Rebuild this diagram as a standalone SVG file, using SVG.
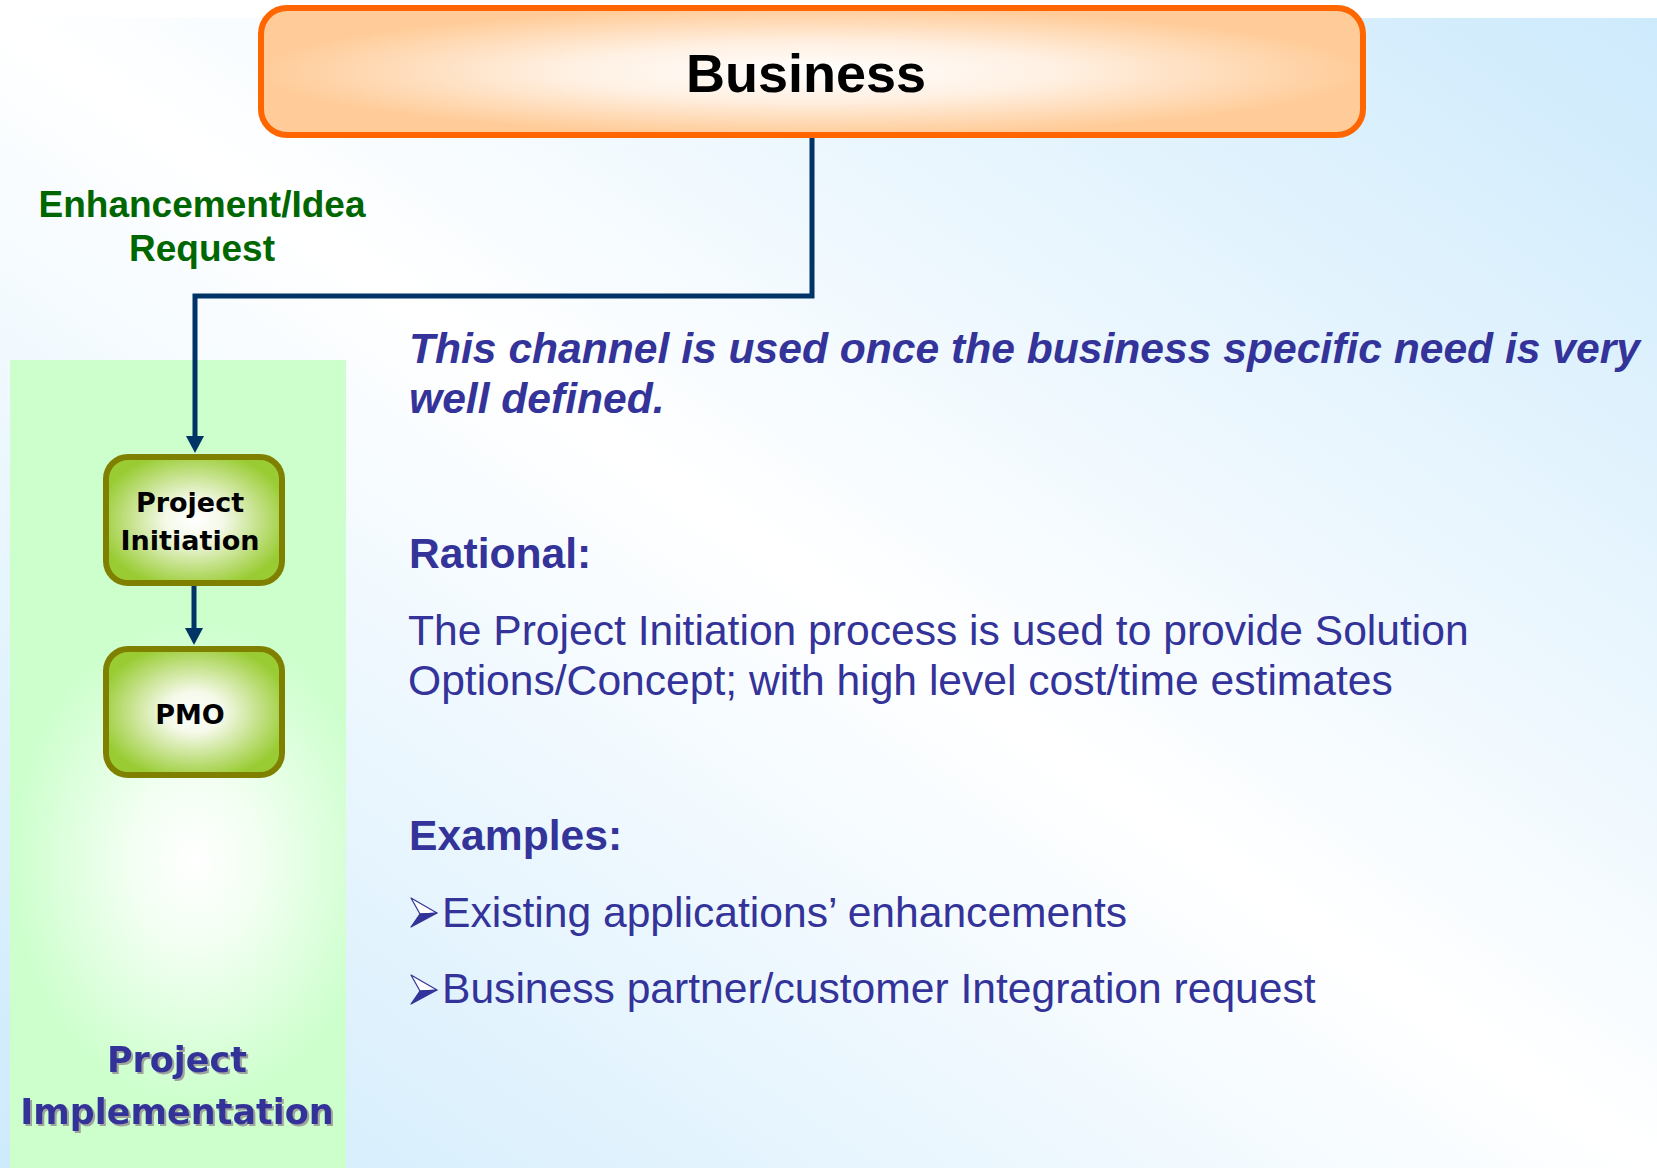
<svg xmlns="http://www.w3.org/2000/svg" width="1657" height="1168" viewBox="0 0 1657 1168">
<defs>
  <linearGradient id="bg" x1="1" y1="0" x2="0" y2="1">
    <stop offset="0" stop-color="#cdeafc"/>
    <stop offset="0.5" stop-color="#ffffff"/>
    <stop offset="1" stop-color="#cdeafc"/>
  </linearGradient>
  <radialGradient id="panelG" cx="0.55" cy="0.62" r="0.55" gradientTransform="translate(0.55 0.62) scale(1 0.55) translate(-0.55 -0.62)">
    <stop offset="0" stop-color="#ffffff"/>
    <stop offset="0.35" stop-color="#f2fff2"/>
    <stop offset="1" stop-color="#ccffcc"/>
  </radialGradient>
  <radialGradient id="bizG" cx="0.5" cy="0.5" r="0.5">
    <stop offset="0" stop-color="#ffffff"/>
    <stop offset="0.45" stop-color="#fff0e2"/>
    <stop offset="1" stop-color="#ffcc99"/>
  </radialGradient>
  <radialGradient id="nodeG" cx="0.5" cy="0.5" r="0.55">
    <stop offset="0" stop-color="#ffffff"/>
    <stop offset="0.3" stop-color="#f4f9e8"/>
    <stop offset="1" stop-color="#99cc33"/>
  </radialGradient>
  <filter id="shadow" x="-5%" y="-5%" width="110%" height="120%">
    <feDropShadow dx="2" dy="2" stdDeviation="0.5" flood-color="#999999" flood-opacity="0.9"/>
  </filter>
  <g id="bullet">
    <path d="M0,0 L26,15 L9,16 Z" fill="#ffffff" stroke="#333399" stroke-width="1.2" stroke-linejoin="round"/>
    <path d="M9,16 L26,15 L0,29 Z" fill="#333399" stroke="#333399" stroke-width="1.2" stroke-linejoin="round"/>
  </g>
  <style>
    .node-text { font-family: "DejaVu Sans", Verdana, sans-serif; font-weight: bold; font-size: 27px; fill: #000000; text-anchor: middle; }
    .blue { fill: #333399; font-family: "Liberation Sans", Arial, sans-serif; font-size: 42.6px; }
    .green-node { fill: url(#nodeG); stroke: #808000; stroke-width: 6; }
    .conn { fill: none; stroke: #003366; stroke-width: 5; }
    .head { fill: #003366; }
  </style>
</defs>

<rect x="0" y="0" width="1657" height="1168" fill="#ffffff"/>
<rect x="0" y="18" width="1657" height="1150" fill="url(#bg)"/>

<g id="panel">
  <rect x="10" y="360" width="336" height="808" fill="url(#panelG)"/>
  <text x="177" y="1072" text-anchor="middle" font-family="DejaVu Sans, Verdana, sans-serif" font-weight="bold" font-size="35" fill="#333399" filter="url(#shadow)">Project</text>
  <text x="177" y="1124" text-anchor="middle" font-family="DejaVu Sans, Verdana, sans-serif" font-weight="bold" font-size="35" fill="#333399" filter="url(#shadow)">Implementation</text>
</g>

<g id="connectors">
  <path class="conn" d="M812,138 V296 H195 V437"/>
  <path class="head" d="M186,436 L204,436 L195,453 Z"/>
  <path class="conn" d="M194,586 V630"/>
  <path class="head" d="M185,628 L203,628 L194,645 Z"/>
</g>

<g id="business">
  <rect x="261" y="8" width="1102" height="127" rx="26" ry="26" fill="url(#bizG)" stroke="#ff6600" stroke-width="6"/>
  <text x="806" y="92" text-anchor="middle" font-family="Liberation Sans, Arial, sans-serif" font-weight="bold" font-size="54" fill="#000000">Business</text>
</g>

<g id="label-request">
  <text x="202" y="217" text-anchor="middle" font-family="Liberation Sans, Arial, sans-serif" font-weight="bold" font-size="37" fill="#006600">Enhancement/Idea</text>
  <text x="202" y="261" text-anchor="middle" font-family="Liberation Sans, Arial, sans-serif" font-weight="bold" font-size="37" fill="#006600">Request</text>
</g>

<g id="project-initiation">
  <rect class="green-node" x="106" y="457" width="176" height="126" rx="22" ry="22"/>
  <text class="node-text" x="190" y="512">Project</text>
  <text class="node-text" x="190" y="550">Initiation</text>
</g>

<g id="pmo">
  <rect class="green-node" x="106" y="649" width="176" height="126" rx="22" ry="22"/>
  <text class="node-text" x="190" y="724">PMO</text>
</g>

<g id="description">
  <text class="blue" x="409" y="363" font-weight="bold" font-style="italic">This channel is used once the business specific need is very</text>
  <text class="blue" x="409" y="413" font-weight="bold" font-style="italic">well defined.</text>
  <text class="blue" x="409" y="568" font-weight="bold">Rational:</text>
  <text class="blue" x="408" y="645">The Project Initiation process is used to provide Solution</text>
  <text class="blue" x="408" y="695">Options/Concept; with high level cost/time estimates</text>
  <text class="blue" x="409" y="850" font-weight="bold">Examples:</text>
  <use href="#bullet" x="411" y="898"/>
  <text class="blue" x="442" y="927">Existing applications’ enhancements</text>
  <use href="#bullet" x="411" y="975"/>
  <text class="blue" x="442" y="1003">Business partner/customer Integration request</text>
</g>
</svg>
